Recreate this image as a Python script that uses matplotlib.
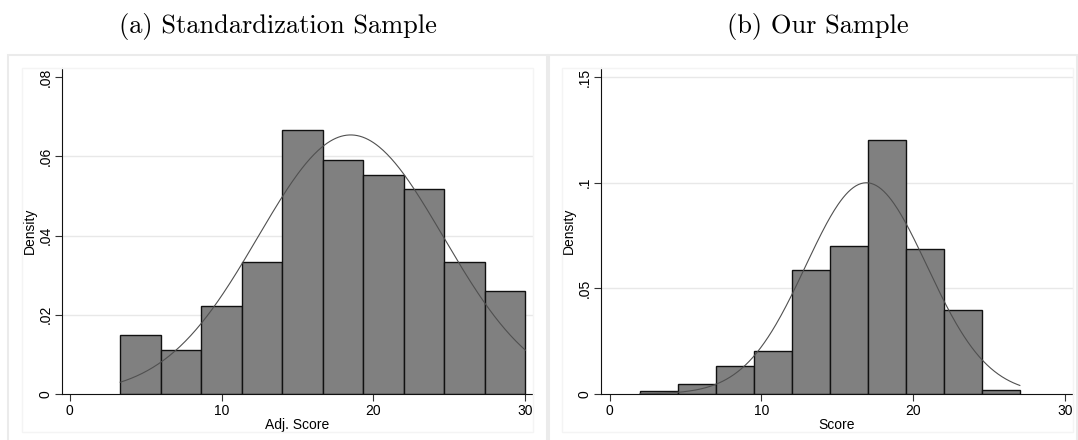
import numpy as np
import matplotlib.pyplot as plt
from matplotlib.patches import Rectangle

# panel (a): standardization sample
a_start, a_width = 10 / 3, 8 / 3
a_density = [0.0148, 0.0111, 0.0221, 0.0332, 0.0666, 0.0590, 0.0554, 0.0517, 0.0332, 0.0259]
a_mean, a_sd = 18.5, 6.1

# panel (b): our sample
b_start, b_width = 2.0, 2.5
b_density = [0.0012, 0.0049, 0.0132, 0.0205, 0.0589, 0.0701, 0.1202, 0.0685, 0.0399, 0.0017]
b_mean, b_sd = 16.9, 3.99

W, H = 1078, 440
fig = plt.figure(figsize=(W / 100, H / 100), dpi=100)


def fx(px):
    return px / W


def fy(py):
    return 1 - py / H


# light panel frames like the Stata graph regions
for x0, x1 in [(8, 547), (549, 1077)]:
    fig.patches.append(Rectangle((fx(x0), fy(450)), fx(x1 - x0), (450 - 55) / H,
                                 transform=fig.transFigure, fill=False,
                                 edgecolor='#ebebeb', lw=1.5))
for x0, x1 in [(22, 533), (562, 1073)]:
    fig.patches.append(Rectangle((fx(x0), fy(432)), fx(x1 - x0), (432 - 68) / H,
                                 transform=fig.transFigure, fill=False,
                                 edgecolor='#f4f4f4', lw=1.0))


def panel(left, right, start, width, dens, mu, sd, xlabel, ylim, yticks, ylabels, grid_ticks, xlim):
    ax = fig.add_axes([fx(left), fy(394), fx(right - left), (394 - 68) / H])
    edges = start + width * np.arange(len(dens) + 1)
    ax.bar(edges[:-1], dens, width=width, align='edge', color='#808080',
           edgecolor='#111111', linewidth=1.0, zorder=2)
    xs = np.linspace(edges[0], edges[-1], 300)
    ys = np.exp(-0.5 * ((xs - mu) / sd) ** 2) / (sd * np.sqrt(2 * np.pi))
    ax.plot(xs, ys, color='#505050', lw=0.8, zorder=3)
    for g in grid_ticks:
        ax.axhline(g, color='#e8e8e8', lw=1.0, zorder=0)
    ax.set_xlim(*xlim)
    ax.set_ylim(*ylim)
    ax.set_xticks([0, 10, 20, 30])
    ax.set_yticks(yticks)
    ax.set_yticklabels(ylabels, rotation=90, va='center')
    ax.tick_params(axis='both', labelsize=10, length=5, width=0.8, color='#333333', pad=2)
    ax.spines['top'].set_visible(False)
    ax.spines['right'].set_visible(False)
    ax.spines['left'].set_color('#111111')
    ax.spines['bottom'].set_color('#111111')
    for t in ax.get_xticklabels() + ax.get_yticklabels():
        t.set_fontfamily('Liberation Sans')
    ax.set_xlabel(xlabel, fontsize=10, family='Liberation Sans', labelpad=0)
    ax.set_ylabel('Density', fontsize=10, family='Liberation Sans', labelpad=1)
    ax.patch.set_alpha(0)
    return ax


panel(62, 533, a_start, a_width, a_density, a_mean, a_sd, 'Adj. Score',
      (0, 0.0823), [0, 0.02, 0.04, 0.06, 0.08], ['0', '.02', '.04', '.06', '.08'],
      [0.02, 0.04, 0.06], (-0.5, 30.5))
panel(601, 1073, b_start, b_width, b_density, b_mean, b_sd, 'Score',
      (0, 0.1543), [0, 0.05, 0.1, 0.15], ['0', '.05', '.1', '.15'],
      [0.05, 0.1, 0.15], (-0.56, 30.5))

fig.text(fx(278), fy(27), '(a) Standardization Sample', family='cmr10',
         fontsize=19, ha='center', va='center')
fig.text(fx(818), fy(27), '(b) Our Sample', family='cmr10',
         fontsize=19, ha='center', va='center')

fig.savefig('out.png', dpi=100)
